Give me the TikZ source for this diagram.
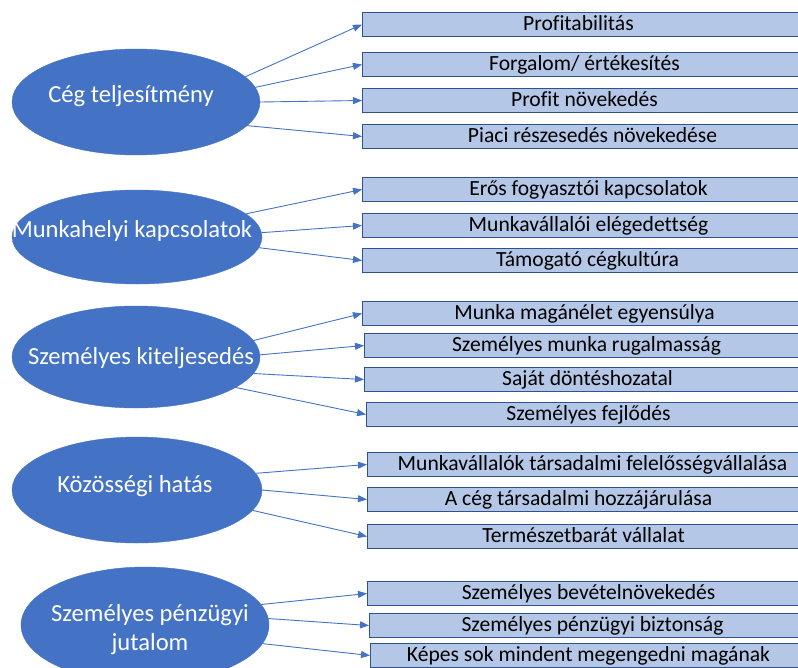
\documentclass[tikz,border=0pt]{standalone}
\usepackage{fontspec}
\setmainfont{Carlito}[Ligatures=NoCommon]
\usetikzlibrary{shapes.geometric,arrows.meta}
\definecolor{cblue}{HTML}{4472C4}
\definecolor{lblue}{HTML}{B4C7E7}
\definecolor{dblue}{HTML}{2F528F}
\newcommand\sh[2]{\hspace*{#1pt}#2}
\tikzset{
  ell/.style={ellipse, fill=cblue, draw=cblue, inner sep=0pt},
  etext/.style={text=white, font=\fontsize{24.6}{29}\selectfont, anchor=base, inner sep=0pt, align=center},
  bx/.style={rectangle, fill=lblue, draw=dblue, line width=1pt, anchor=north west,
    minimum width=460, minimum height=24, inner sep=0pt,
    font=\fontsize{21.6}{24}\selectfont, text height=15pt, text depth=3pt},
  arr/.style={draw=cblue, line width=0.9pt, -{Triangle[length=9pt,width=7pt]}}
}
\begin{document}
\begin{tikzpicture}[x=1pt,y=-1pt]
\useasboundingbox (0,0) rectangle (798,667);
\clip (0,0) rectangle (798,667);
% group 1
\node[ell, minimum width=248, minimum height=106] (e1) at (136,102) {};
\node[etext] (t1) at (131,102) {Cég teljesítmény};
\node[bx] (b1) at (362,12) {\sh{-28}{Profitabilitás}};
\node[bx] (b2) at (362,52) {\sh{-16}{Forgalom/ értékesítés}};
\node[bx] (b3) at (362,88) {\sh{-16}{Profit növekedés}};
\node[bx] (b4) at (362,124) {Piaci részesedés növekedése};
\draw[arr] (e1.13) -- (b1.west);
\draw[arr] (e1.7.5) -- (b2.west);
\draw[arr] (e1.-0.5) -- (b3.west);
\draw[arr] (e1.-12) -- (b4.west);
% group 2
\node[ell, minimum width=250, minimum height=94] (e2) at (137,237) {};
\node[etext] (t2) at (132,237) {Munkahelyi kapcsolatok};
\node[bx] (b5) at (362,177) {\sh{-8}{Erős fogyasztói kapcsolatok}};
\node[bx] (b6) at (362,213) {\sh{-8}{Munkavállalói elégedettség}};
\node[bx] (b7) at (362,248) {\sh{-10}{Támogató cégkultúra}};
\draw[arr] (e2.12.6) -- (b5.west);
\draw[arr] (e2.2.7) -- (b6.west);
\draw[arr] (e2.-5.2) -- (b7.west);
% group 3
\node[ell, minimum width=248, minimum height=102] (e3) at (136,357) {};
\node[etext] (t3) at (141,364) {Személyes kiteljesedés};
\node[bx] (b8) at (362,301) {\sh{-16}{Munka magánélet egyensúlya}};
\node[bx] (b9) at (364,333) {\sh{-16}{Személyes munka rugalmasság}};
\node[bx] (b10) at (364,367) {\sh{-14}{Saját döntéshozatal}};
\node[bx] (b11) at (366,402) {\sh{-16}{Személyes fejlődés}};
\draw[arr] (e3.8.3) -- (b8.west);
\draw[arr] (e3.1) -- (b9.west);
\draw[arr] (e3.-8) -- (b10.west);
\draw[arr] (e3.-17) -- (b11.west);
% group 4
\node[ell, minimum width=250, minimum height=106] (e4) at (137,490) {};
\node[etext] (t4) at (135,492) {Közösségi hatás};
\node[bx] (b12) at (367,452) {\sh{-10}{Munkavállalók társadalmi felelősségvállalása}};
\node[bx] (b13) at (367,487) {\sh{-38}{A cég társadalmi hozzájárulása}};
\node[bx] (b14) at (367,524) {\sh{-28}{Természetbarát vállalat}};
\draw[arr] (e4.8.7) -- (b12.west);
\draw[arr] (e4.0) -- (b13.west);
\draw[arr] (e4.-10.7) -- (b14.west);
% group 5
\node[ell, minimum width=248, minimum height=116] (e5) at (145,625) {};
\node[etext, anchor=center] (t5) at (150,629.5) {Személyes pénzügyi\\jutalom};
\node[bx] (b15) at (367,581) {\sh{-18}{Személyes bevételnövekedés}};
\node[bx] (b16) at (369,613) {\sh{-14}{Személyes pénzügyi biztonság}};
\node[bx] (b17) at (370,643) {\sh{-24}{Képes sok mindent megengedni magának}};
\draw[arr] (e5.10) -- (b15.west);
\draw[arr] (e5.3) -- (b16.west);
\draw[arr] (e5.-9) -- (b17.west);
\end{tikzpicture}
\end{document}
